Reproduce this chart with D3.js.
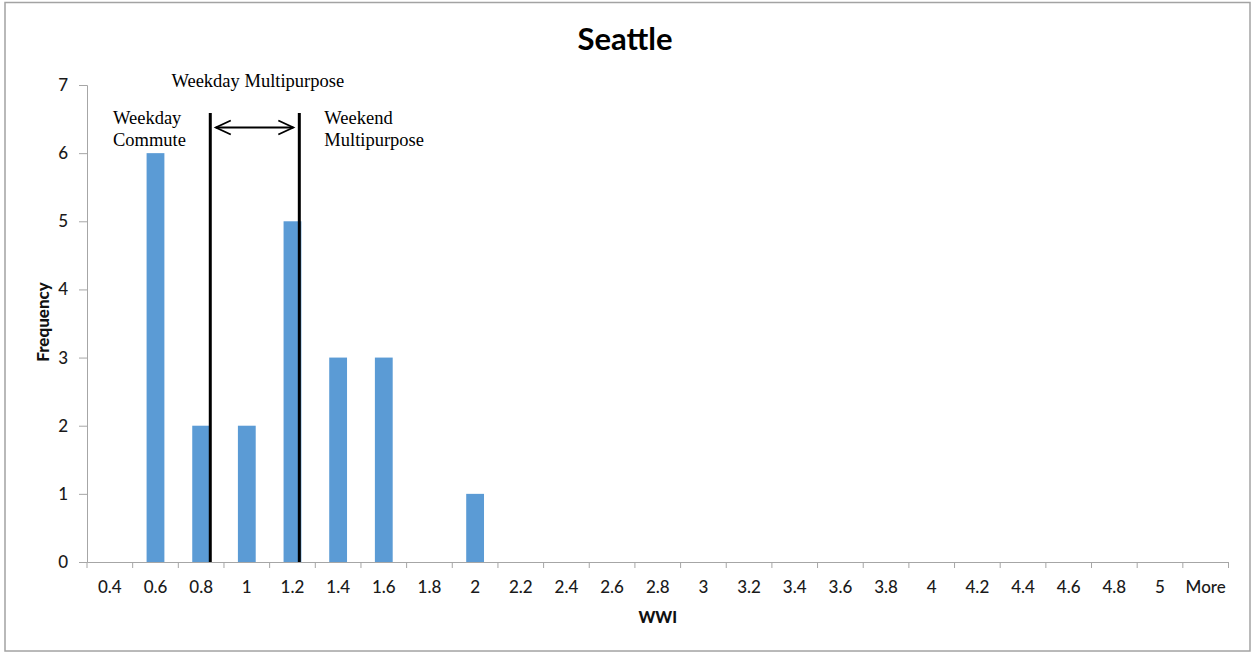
<!DOCTYPE html>
<html>
<head>
<meta charset="utf-8">
<script src="https://cdn.jsdelivr.net/npm/d3@7"></script>
<style>
  html, body { margin: 0; padding: 0; background: #fff; }
  svg { display: block; }
</style>
</head>
<body>
<svg id="chart" width="1254" height="652"></svg>
<script>
// Histogram bins (upper bound of each WWI bin) and their counts
const bins = ["0.4","0.6","0.8","1","1.2","1.4","1.6","1.8","2","2.2","2.4","2.6","2.8","3",
              "3.2","3.4","3.6","3.8","4","4.2","4.4","4.6","4.8","5","More"];
const frequency = [0, 6, 2, 2, 5, 3, 3, 0, 1, 0, 0, 0, 0, 0,
                   0, 0, 0, 0, 0, 0, 0, 0, 0, 0, 0];
const yTicks = [0, 1, 2, 3, 4, 5, 6, 7];

// WWI cut-offs separating trip-purpose groups
const thresholds = [0.84, 1.23];
const zoneLabels = [
  { lines: ["Weekday", "Commute"] },
  { lines: ["Weekend", "Multipurpose"] }
];
const middleLabel = "Weekday Multipurpose";

const svg = d3.select("#chart");
const plot = { left: 87, right: 1228.5, top: 85, bottom: 562 };

// outer chart frame
svg.append("rect")
  .attr("x", 5).attr("y", 2.5).attr("width", 1245).attr("height", 648.5)
  .attr("fill", "#fff").attr("stroke", "#a3a3a3").attr("stroke-width", 1.5);

const x = d3.scaleBand().domain(bins)
  .range([plot.left, plot.right])
  .paddingInner(0.61).paddingOuter(0.305);
const y = d3.scaleLinear().domain([0, 7]).range([plot.bottom, plot.top]);

// continuous WWI position along the category axis (bin label -> band centre)
const wwi = d3.scaleLinear()
  .domain([0.4, 0.6])
  .range([x("0.4") + x.bandwidth() / 2, x("0.6") + x.bandwidth() / 2]);

// bars
svg.append("g").selectAll("rect")
  .data(bins.map((b, i) => ({ b, v: frequency[i] })).filter(d => d.v > 0))
  .join("rect")
  .attr("x", d => x(d.b))
  .attr("width", x.bandwidth())
  .attr("y", d => y(d.v))
  .attr("height", d => y(0) - y(d.v))
  .attr("fill", "#5b9bd5");

const axisColor = "#a6a6a6";
const labelFont = "Lato, 'Open Sans', sans-serif";

// y axis
const yAxis = svg.append("g")
  .attr("transform", `translate(${plot.left},0)`)
  .call(d3.axisLeft(y).tickValues(yTicks).tickSize(8).tickPadding(11).tickFormat(d3.format("d")));
yAxis.select(".domain").attr("stroke", axisColor);
yAxis.selectAll(".tick line").attr("stroke", axisColor);
yAxis.selectAll(".tick text")
  .attr("fill", "#1a1a1a").style("font-family", labelFont).style("font-size", "17px")
  .style("font-weight", 500);

// x axis: labels centred under bins, ticks on bin boundaries
const xAxis = svg.append("g")
  .attr("transform", `translate(0,${plot.bottom})`)
  .call(d3.axisBottom(x).tickSize(0).tickPadding(19));
xAxis.select(".domain").attr("stroke", axisColor);
xAxis.selectAll(".tick text")
  .attr("fill", "#1a1a1a").style("font-family", labelFont).style("font-size", "17px")
  .style("font-weight", 500);

const step = x.step();
const boundaries = d3.range(bins.length + 1).map(i => plot.left + i * step);
svg.append("g").selectAll("line")
  .data(boundaries).join("line")
  .attr("x1", d => d).attr("x2", d => d)
  .attr("y1", plot.bottom).attr("y2", plot.bottom + 6)
  .attr("stroke", axisColor);

// axis titles
svg.append("text")
  .attr("x", (plot.left + plot.right) / 2).attr("y", 623)
  .attr("text-anchor", "middle")
  .style("font-family", labelFont).style("font-weight", "900").style("font-size", "16px")
  .attr("fill", "#111").text("WWI");

svg.append("text")
  .attr("transform", "translate(48.5,322) rotate(-90)")
  .attr("text-anchor", "middle")
  .style("font-family", labelFont).style("font-weight", "900").style("font-size", "17px")
  .attr("fill", "#111").text("Frequency");

// chart title
svg.append("text")
  .attr("x", 625).attr("y", 50)
  .attr("text-anchor", "middle")
  .style("font-family", labelFont).style("font-weight", "bold").style("font-size", "31px")
  .attr("fill", "#000").text("Seattle");

// threshold lines
const lineTop = 113;
svg.append("g").selectAll("line")
  .data(thresholds).join("line")
  .attr("x1", d => wwi(d)).attr("x2", d => wwi(d))
  .attr("y1", lineTop).attr("y2", plot.bottom)
  .attr("stroke", "#000").attr("stroke-width", 3);

// double-headed arrow between thresholds
const ay = 127.5;
const ax0 = wwi(thresholds[0]) + 5.5, ax1 = wwi(thresholds[1]) - 6;
const arrow = svg.append("g").attr("fill", "none").attr("stroke", "#000").attr("stroke-width", 1.8);
arrow.append("line").attr("x1", ax0).attr("x2", ax1).attr("y1", ay).attr("y2", ay);
arrow.append("path").attr("d", `M${ax0 + 15},${ay - 7}L${ax0},${ay}L${ax0 + 15},${ay + 7}`);
arrow.append("path").attr("d", `M${ax1 - 15},${ay - 7}L${ax1},${ay}L${ax1 - 15},${ay + 7}`);

// annotation labels
const serif = "'Liberation Serif', 'Times New Roman', serif";
svg.append("text")
  .attr("x", (wwi(thresholds[0]) + wwi(thresholds[1])) / 2 + 3).attr("y", 87)
  .attr("text-anchor", "middle")
  .style("font-family", serif).style("font-size", "18.5px")
  .attr("fill", "#000").text(middleLabel);

zoneLabels.forEach((z, k) => {
  const lx = k === 0 ? 113 : wwi(thresholds[1]) + 25;
  const t = svg.append("text")
    .attr("x", lx).attr("y", 124)
    .style("font-family", serif).style("font-size", "18.5px")
    .attr("fill", "#000");
  z.lines.forEach((s, i) => t.append("tspan")
    .attr("x", lx)
    .attr("dy", i === 0 ? 0 : 21.5).text(s));
});
</script>
</body>
</html>
